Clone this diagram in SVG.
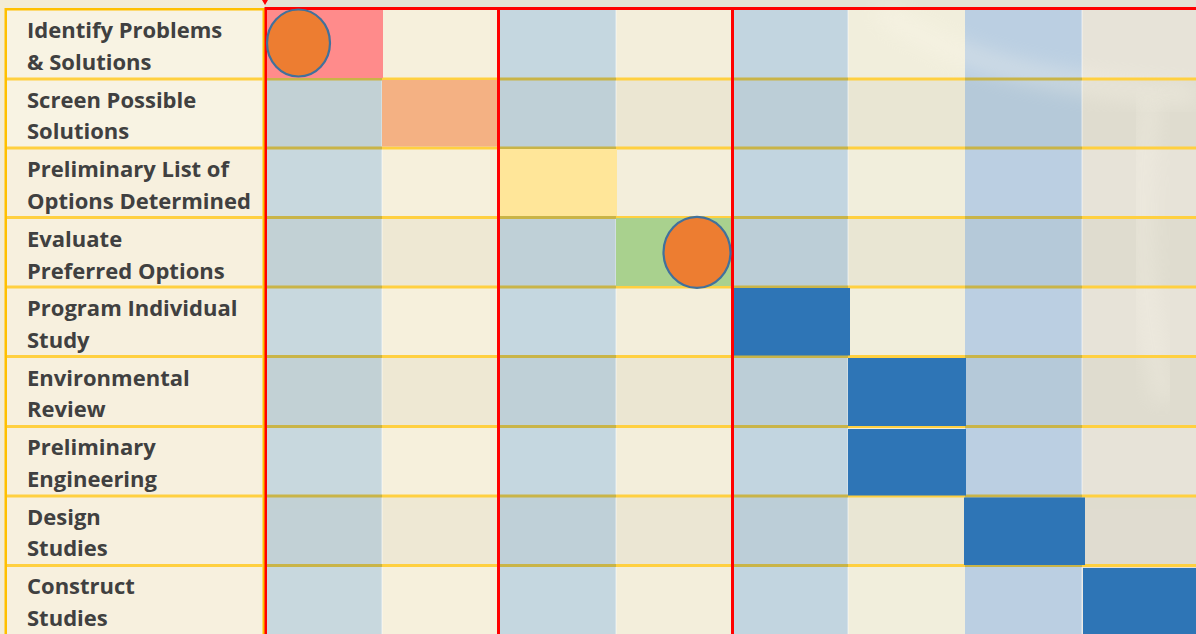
<svg xmlns="http://www.w3.org/2000/svg" width="1196" height="634" viewBox="0 0 1196 634">
<defs>
<style>
.lbl{font-family:"Open Sans","Liberation Sans",sans-serif;font-weight:700;font-size:22px;fill:#404040}
.hl{fill:#FFD040}
.hb{fill:#C9B447}
.red{fill:#FF0000}
.blue{fill:#2E75B6}
.dot{fill:#ED7D31;stroke:#41719C;stroke-width:2.2}
</style>
<linearGradient id="bg" x1="0" y1="0" x2="1" y2="1">
<stop offset="0" stop-color="#F3ECD6"/>
<stop offset="0.5" stop-color="#F2ECD8"/>
<stop offset="1" stop-color="#EEE6D2"/>
</linearGradient>
<filter id="blur" x="-20%" y="-20%" width="140%" height="140%"><feGaussianBlur stdDeviation="10"/></filter>
</defs>
<rect width="1196" height="634" fill="url(#bg)"/>
<rect x="265" y="0" width="931" height="9" fill="#E4E3D6"/>
<!-- label column -->
<g id="label-column">
<rect x="5" y="9" width="260" height="625" fill="#F8F3E3"/>
<rect x="5" y="148" width="260" height="486" fill="#F6EFDA" opacity="0.6"/>
<rect x="5" y="8" width="260" height="2.5" fill="#FFC000"/>
<rect x="4.5" y="8" width="2.5" height="626" fill="#FFC000"/>
<rect x="262.5" y="8" width="2.5" height="626" fill="#FFC000"/>
</g>
<!-- columns -->
<g id="columns">
<rect x="265" y="10" width="117" height="624" fill="#C8D8DE"/>
<rect x="382" y="10" width="116" height="624" fill="#F6F0DC"/>
<rect x="498" y="10" width="118" height="624" fill="#C5D7E0"/>
<rect x="616" y="10" width="116" height="624" fill="#F3EEDB"/>
<rect x="732" y="10" width="116" height="624" fill="#C2D5E0"/>
<rect x="848" y="10" width="117" height="624" fill="#F1EEDC"/>
<rect x="965" y="10" width="117" height="624" fill="#BBCFE2"/>
<rect x="1082" y="10" width="114" height="624" fill="#E7E3D8"/>
<g opacity="0.045" fill="#505028">
<rect x="265" y="79" width="931" height="69"/>
<rect x="265" y="218" width="931" height="69"/>
<rect x="265" y="357" width="931" height="69"/>
<rect x="265" y="497" width="931" height="68"/>
</g>
<g opacity="0.3" fill="#FFFFFF">
<rect x="381" y="10" width="2" height="624"/>
<rect x="615" y="10" width="2" height="624"/>
<rect x="847" y="10" width="2" height="624"/>
<rect x="1081" y="10" width="2" height="624"/>
</g>
<path d="M880 10 C 950 60, 1040 85, 1196 95" stroke="#FFFBEF" stroke-width="20" fill="none" opacity="0.3" filter="url(#blur)"/>
<path d="M1150 100 C 1135 200, 1140 300, 1165 400" stroke="#FFFBEF" stroke-width="22" fill="none" opacity="0.25" filter="url(#blur)"/>
</g>
<!-- row dividers -->
<g id="row-lines">
<rect class="hl" x="7" y="77.5" width="256" height="3"/>
<rect class="hl" x="7" y="146.5" width="256" height="3"/>
<rect class="hl" x="7" y="216" width="256" height="3"/>
<rect class="hl" x="7" y="285.5" width="256" height="3"/>
<rect class="hl" x="7" y="355" width="256" height="3"/>
<rect class="hl" x="7" y="425" width="256" height="3"/>
<rect class="hl" x="7" y="494.5" width="256" height="3"/>
<rect class="hl" x="7" y="564" width="256" height="3"/>
</g>
<g id="grid-lines">
<g class="hb">
<rect x="265" y="77.5" width="117" height="3"/><rect x="498" y="77.5" width="118" height="3"/><rect x="732" y="77.5" width="116" height="3"/><rect x="965" y="77.5" width="117" height="3"/>
<rect x="265" y="146.5" width="117" height="3"/><rect x="498" y="146.5" width="118" height="3"/><rect x="732" y="146.5" width="116" height="3"/><rect x="965" y="146.5" width="117" height="3"/>
<rect x="265" y="216" width="117" height="3"/><rect x="498" y="216" width="118" height="3"/><rect x="732" y="216" width="116" height="3"/><rect x="965" y="216" width="117" height="3"/>
<rect x="265" y="285.5" width="117" height="3"/><rect x="498" y="285.5" width="118" height="3"/><rect x="732" y="285.5" width="116" height="3"/><rect x="965" y="285.5" width="117" height="3"/>
<rect x="265" y="355" width="117" height="3"/><rect x="498" y="355" width="118" height="3"/><rect x="732" y="355" width="116" height="3"/><rect x="965" y="355" width="117" height="3"/>
<rect x="265" y="425" width="117" height="3"/><rect x="498" y="425" width="118" height="3"/><rect x="732" y="425" width="116" height="3"/><rect x="965" y="425" width="117" height="3"/>
<rect x="265" y="494.5" width="117" height="3"/><rect x="498" y="494.5" width="118" height="3"/><rect x="732" y="494.5" width="116" height="3"/><rect x="965" y="494.5" width="117" height="3"/>
<rect x="265" y="564" width="117" height="3"/><rect x="498" y="564" width="118" height="3"/><rect x="732" y="564" width="116" height="3"/><rect x="965" y="564" width="117" height="3"/>
</g>
<g class="hl">
<rect x="382" y="77.5" width="116" height="3"/><rect x="616" y="77.5" width="116" height="3"/><rect x="848" y="77.5" width="117" height="3"/><rect x="1082" y="77.5" width="114" height="3"/>
<rect x="382" y="146.5" width="116" height="3"/><rect x="616" y="146.5" width="116" height="3"/><rect x="848" y="146.5" width="117" height="3"/><rect x="1082" y="146.5" width="114" height="3"/>
<rect x="382" y="216" width="116" height="3"/><rect x="616" y="216" width="116" height="3"/><rect x="848" y="216" width="117" height="3"/><rect x="1082" y="216" width="114" height="3"/>
<rect x="382" y="285.5" width="116" height="3"/><rect x="616" y="285.5" width="116" height="3"/><rect x="848" y="285.5" width="117" height="3"/><rect x="1082" y="285.5" width="114" height="3"/>
<rect x="382" y="355" width="116" height="3"/><rect x="616" y="355" width="116" height="3"/><rect x="848" y="355" width="117" height="3"/><rect x="1082" y="355" width="114" height="3"/>
<rect x="382" y="425" width="116" height="3"/><rect x="616" y="425" width="116" height="3"/><rect x="848" y="425" width="117" height="3"/><rect x="1082" y="425" width="114" height="3"/>
<rect x="382" y="494.5" width="116" height="3"/><rect x="616" y="494.5" width="116" height="3"/><rect x="848" y="494.5" width="117" height="3"/><rect x="1082" y="494.5" width="114" height="3"/>
<rect x="382" y="564" width="116" height="3"/><rect x="616" y="564" width="116" height="3"/><rect x="848" y="564" width="117" height="3"/><rect x="1082" y="564" width="114" height="3"/>
</g>
</g>
<!-- highlighted cells -->
<g id="cell-identify"><rect x="267" y="10" width="116" height="68" fill="#FF8B8B"/></g>
<g id="cell-screen"><rect x="382" y="80" width="116" height="66.5" fill="#F4B183"/></g>
<g id="cell-preliminary-list"><rect x="500" y="149" width="117" height="67" fill="#FFE699"/></g>
<g id="cell-evaluate"><rect x="616" y="218" width="116" height="68" fill="#A9D18E"/></g>
<g id="cell-program"><rect class="blue" x="733" y="288" width="117" height="67.5"/></g>
<g id="cell-environmental"><rect class="blue" x="848" y="358" width="118" height="68"/></g>
<g id="cell-engineering"><rect class="blue" x="848" y="429" width="118" height="66.5"/></g>
<g id="cell-design"><rect class="blue" x="964" y="497.5" width="121" height="67.5"/></g>
<g id="cell-construct"><rect class="blue" x="1083" y="568" width="113" height="66"/></g>
<!-- red frames -->
<g id="red-frame">
<rect class="red" x="265" y="7" width="931" height="3"/>
<rect class="red" x="264.5" y="7" width="2.5" height="627"/>
<rect class="red" x="497" y="7" width="3" height="627"/>
<rect class="red" x="731" y="7" width="3" height="627"/>
<path class="red" d="M262 0 L268 0 L265 5 Z"/>
</g>
<!-- milestone dots -->
<g id="dot-1"><ellipse class="dot" cx="298.5" cy="43" rx="31.5" ry="33.5"/></g>
<g id="dot-2"><ellipse class="dot" cx="697" cy="252.3" rx="33.5" ry="35.5"/></g>
<!-- labels -->
<g id="row-1"><text class="lbl" x="27" y="38">Identify Problems</text><text class="lbl" x="27" y="70">&amp; Solutions</text></g>
<g id="row-2"><text class="lbl" x="27" y="107.5">Screen Possible</text><text class="lbl" x="27" y="139">Solutions</text></g>
<g id="row-3"><text class="lbl" x="27" y="177">Preliminary List of</text><text class="lbl" x="27" y="208.5">Options Determined</text></g>
<g id="row-4"><text class="lbl" x="27" y="246.5">Evaluate</text><text class="lbl" x="27" y="278.5">Preferred Options</text></g>
<g id="row-5"><text class="lbl" x="27" y="316">Program Individual</text><text class="lbl" x="27" y="348">Study</text></g>
<g id="row-6"><text class="lbl" x="27" y="385.5">Environmental</text><text class="lbl" x="27" y="417">Review</text></g>
<g id="row-7"><text class="lbl" x="27" y="455">Preliminary</text><text class="lbl" x="27" y="487">Engineering</text></g>
<g id="row-8"><text class="lbl" x="27" y="524.5">Design</text><text class="lbl" x="27" y="556">Studies</text></g>
<g id="row-9"><text class="lbl" x="27" y="594">Construct</text><text class="lbl" x="27" y="625.5">Studies</text></g>
<g id="connectors"/>
</svg>
